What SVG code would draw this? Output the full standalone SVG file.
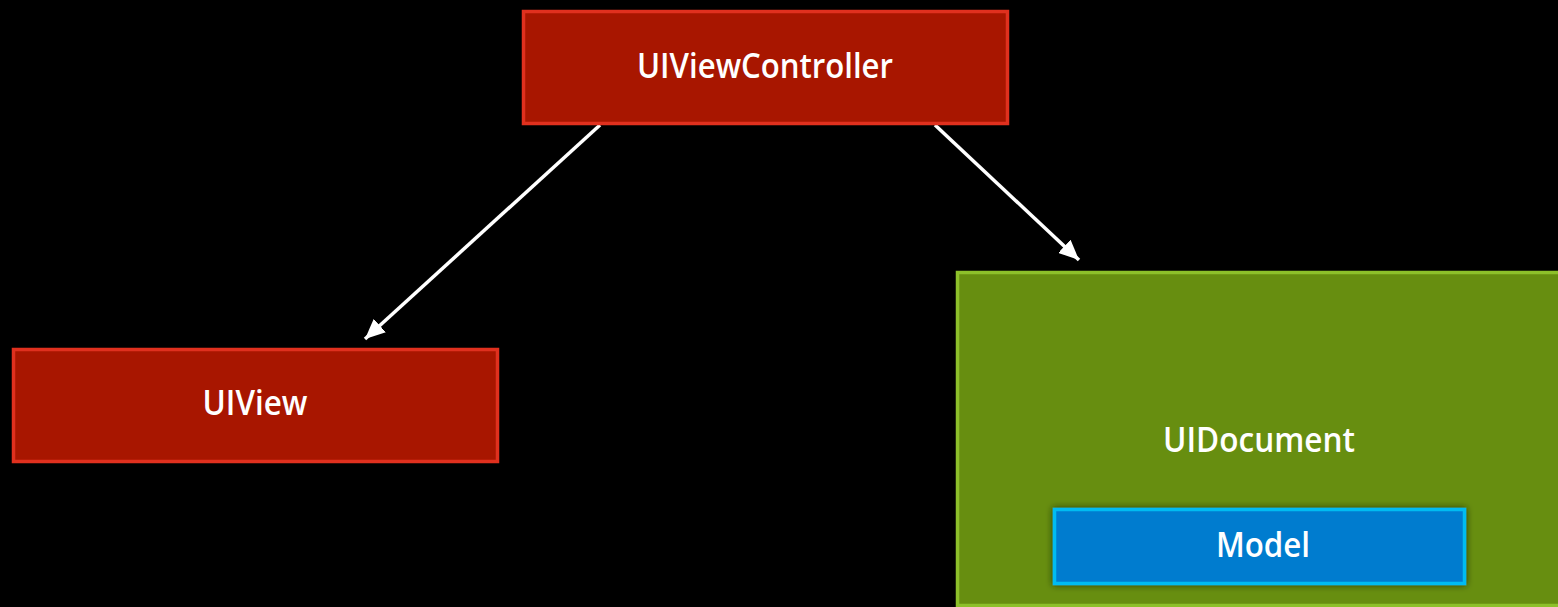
<svg xmlns="http://www.w3.org/2000/svg" width="1558" height="607" viewBox="0 0 1558 607">
<style>
.lbl{font-family:"Open Sans","Noto Sans","Liberation Sans",sans-serif;font-size:34px;font-weight:600;fill:#ffffff;text-anchor:middle}
.red{fill:#a81600;stroke:#e0301e;stroke-width:3.5}
.green{fill:#678e10;stroke:#8dc02a;stroke-width:3.5}
.blue{fill:#007ccf;stroke:#00bcf2;stroke-width:3.5}
.conn{stroke:#ffffff;stroke-width:3.5;fill:none}
</style>
<defs>
<marker id="arrow" markerUnits="userSpaceOnUse" markerWidth="22" markerHeight="18" refX="20" refY="9" orient="auto">
<path d="M0,0 L20,9 L0,18 Z" fill="#ffffff"/>
</marker>
<filter id="shadow" x="-10%" y="-20%" width="120%" height="140%">
<feDropShadow dx="0" dy="0" stdDeviation="3" flood-color="#1a2a00" flood-opacity="0.9"/>
</filter>
</defs>
<rect width="1558" height="607" fill="#000000"/>
<g id="connectors">
<line class="conn" x1="600" y1="125" x2="365" y2="339" marker-end="url(#arrow)"/>
<line class="conn" x1="935" y1="125" x2="1079" y2="260" marker-end="url(#arrow)"/>
</g>
<g id="uiviewcontroller">
<rect class="red" x="523.5" y="11.5" width="484" height="112"/>
<text class="lbl" x="765" y="78" textLength="256" lengthAdjust="spacingAndGlyphs">UIViewController</text>
</g>
<g id="uiview">
<rect class="red" x="13.5" y="349.5" width="484" height="112"/>
<text class="lbl" x="255" y="415" textLength="105" lengthAdjust="spacingAndGlyphs">UIView</text>
</g>
<g id="uidocument">
<rect class="green" x="957.5" y="272.5" width="610" height="333"/>
<text class="lbl" x="1259" y="452" textLength="192" lengthAdjust="spacingAndGlyphs">UIDocument</text>
</g>
<g id="model">
<rect class="blue" x="1054.5" y="509.5" width="410" height="74" filter="url(#shadow)"/>
<text class="lbl" x="1263" y="557" textLength="94" lengthAdjust="spacingAndGlyphs">Model</text>
</g>
</svg>
